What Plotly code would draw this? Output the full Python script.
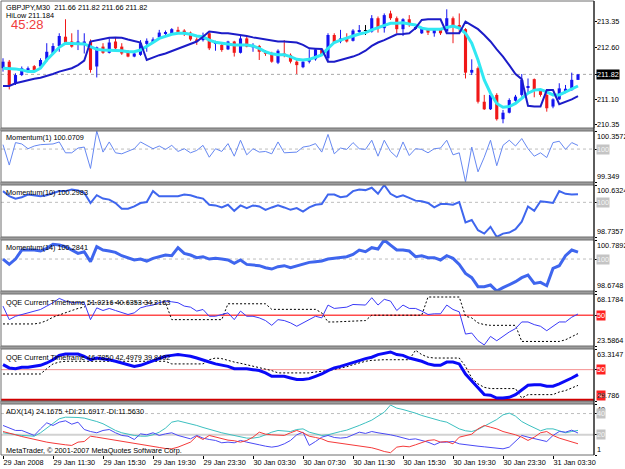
import plotly.graph_objects as go

# ---------------- data ----------------
x_tickvals = [0, 8, 16, 24, 32, 40, 48, 56, 64, 72, 80, 88]
x_ticktext = ["29 Jan 2008", "29 Jan 11:30", "29 Jan 15:30", "29 Jan 19:30",
              "29 Jan 23:30", "30 Jan 03:30", "30 Jan 07:30", "30 Jan 11:30",
              "30 Jan 15:30", "30 Jan 19:30", "30 Jan 23:30", "31 Jan 03:30"]

opens = [212.00, 212.19, 211.56, 211.80, 211.93, 212.06, 212.05, 212.24, 212.43, 212.65,
         212.92, 212.78, 212.73, 212.68, 212.78, 212.05, 212.63, 212.45, 212.78, 212.63,
         212.48, 212.34, 212.39, 212.71, 212.75, 212.90, 213.00, 213.00, 213.12, 213.10,
         213.04, 212.84, 212.82, 213.02, 212.71, 212.68, 212.55, 212.78, 212.45, 212.87,
         212.61, 212.65, 212.48, 212.43, 212.16, 212.43, 212.39, 212.19, 212.03, 212.19,
         212.26, 212.55, 212.29, 212.97, 212.78, 212.87, 212.80, 213.08, 213.10, 213.07,
         213.46, 213.17, 213.60, 213.46, 213.14, 213.43, 213.15, 213.02, 213.14, 213.02,
         213.12, 213.07, 213.46, 213.26, 213.14, 211.87, 212.00, 211.02, 210.80, 211.22,
         210.51, 210.70, 211.05, 211.22, 211.44, 211.68, 211.34, 211.22, 210.88, 211.09,
         211.36, 211.36, 211.66]
highs = [212.29, 212.24, 211.85, 212.05, 212.05, 212.09, 212.29, 212.73, 212.73, 213.02,
         213.43, 213.02, 213.12, 213.02, 212.84, 212.63, 212.73, 212.87, 212.90, 212.73,
         212.53, 212.48, 212.82, 212.87, 212.90, 213.12, 213.10, 213.17, 213.21, 213.14,
         213.07, 212.90, 213.04, 213.04, 212.80, 212.73, 212.80, 212.80, 212.97, 212.92,
         212.73, 212.68, 212.53, 212.48, 212.55, 212.82, 212.43, 212.29, 212.24, 212.55,
         212.58, 212.58, 213.02, 213.02, 213.12, 213.02, 213.14, 213.26, 213.26, 213.55,
         213.51, 213.60, 213.68, 213.51, 213.46, 213.55, 213.26, 213.21, 213.17, 213.17,
         213.14, 213.72, 213.51, 213.60, 213.17, 212.26, 212.05, 211.22, 211.27, 211.27,
         210.78, 211.12, 211.22, 211.83, 211.70, 211.70, 211.38, 211.27, 211.12, 211.56,
         211.51, 211.87, 211.82]
lows = [211.90, 211.38, 211.51, 211.77, 211.90, 211.92, 212.00, 212.19, 212.39, 212.48,
        212.68, 212.60, 212.53, 212.43, 211.87, 211.73, 212.42, 212.43, 212.53, 212.39,
        212.32, 212.32, 212.36, 212.48, 212.73, 212.87, 212.97, 212.97, 213.00, 212.94,
        212.80, 212.68, 212.78, 212.53, 212.51, 212.48, 212.53, 212.34, 212.43, 212.61,
        212.48, 212.24, 212.36, 212.16, 212.12, 212.32, 212.14, 211.83, 212.00, 212.14,
        212.22, 212.36, 212.19, 212.73, 212.73, 212.75, 212.78, 213.02, 212.97, 213.04,
        213.04, 213.04, 213.41, 213.02, 212.94, 213.21, 213.12, 213.00, 212.97, 212.92,
        212.97, 213.02, 212.73, 213.02, 211.70, 211.80, 210.97, 210.78, 210.78, 210.47,
        210.39, 210.68, 211.02, 211.17, 211.27, 211.15, 211.17, 210.73, 210.83, 211.07,
        211.27, 211.34, 211.66]
closes = [212.19, 211.51, 211.80, 212.00, 212.00, 211.95, 212.24, 212.48, 212.65, 212.94,
          212.75, 212.63, 212.78, 212.78, 211.95, 212.61, 212.45, 212.75, 212.58, 212.43,
          212.34, 212.43, 212.73, 212.80, 212.84, 213.04, 213.04, 213.14, 213.02, 213.00,
          212.84, 212.78, 212.97, 212.58, 212.75, 212.53, 212.78, 212.45, 212.87, 212.63,
          212.68, 212.48, 212.42, 212.19, 212.51, 212.36, 212.19, 212.09, 212.19, 212.29,
          212.55, 212.39, 212.97, 212.75, 212.87, 212.78, 213.10, 213.11, 213.10, 213.46,
          213.17, 213.55, 213.46, 213.14, 213.43, 213.26, 213.18, 213.19, 213.04, 213.12,
          213.02, 213.46, 213.21, 213.17, 211.87, 211.95, 211.02, 210.80, 211.22, 210.51,
          210.70, 211.07, 211.17, 211.66, 211.48, 211.34, 211.22, 210.83, 211.09, 211.41,
          211.40, 211.66, 211.82]

ma_fast = [212.00, 212.00, 211.98, 211.95, 211.90, 211.90, 212.00, 212.24, 212.43, 212.61,
           212.73, 212.73, 212.71, 212.71, 212.63, 212.55, 212.53, 212.53, 212.53, 212.51,
           212.48, 212.48, 212.53, 212.63, 212.75, 212.87, 212.94, 212.99, 213.02, 213.02,
           212.99, 212.94, 212.92, 212.82, 212.76, 212.73, 212.71, 212.68, 212.68, 212.68,
           212.65, 212.58, 212.48, 212.42, 212.39, 212.39, 212.34, 212.26, 212.24, 212.26,
           212.32, 212.39, 212.58, 212.75, 212.82, 212.87, 212.94, 213.00, 213.04, 213.12,
           213.18, 213.26, 213.31, 213.31, 213.33, 213.29, 213.26, 213.17, 213.14, 213.14,
           213.14, 213.19, 213.23, 213.17, 213.02, 212.73, 212.24, 211.66, 211.27, 210.97,
           210.86, 210.88, 210.97, 211.12, 211.27, 211.36, 211.38, 211.31, 211.22, 211.22,
           211.31, 211.38, 211.48]
hilow = [211.48, 211.48, 211.56, 211.61, 211.66, 211.69, 211.72, 211.77, 211.83, 211.90,
         211.95, 212.00, 212.09, 212.22, 212.78, 212.82, 212.86, 212.89, 212.90, 212.89,
         212.84, 212.79, 212.75, 212.24, 212.32, 212.38, 212.43, 212.50, 212.56, 212.63,
         212.70, 212.78, 212.92, 213.07, 213.05, 213.02, 213.02, 213.00, 212.97, 212.94,
         212.90, 212.87, 212.84, 212.79, 212.78, 212.78, 212.76, 212.75, 212.68, 212.58,
         212.57, 212.56, 212.19, 212.19, 212.24, 212.28, 212.34, 212.41, 212.51, 212.65,
         212.75, 212.82, 212.90, 212.99, 213.00, 213.02, 213.17, 213.41, 213.43, 213.43,
         213.43, 213.02, 213.02, 213.02, 213.36, 213.26, 213.14, 212.97, 212.78, 212.55,
         212.34, 212.09, 211.83, 211.68, 210.90, 210.88, 210.88, 211.36, 211.36, 210.95,
         211.02, 211.09, 211.184]

mom1 = [100.087, 99.684, 100.128, 100.101, 100.007, 100.060, 100.087, 100.101, 100.101, 100.141,
        99.926, 99.926, 100.020, 100.040, 99.617, 100.357, 99.940, 100.141, 99.926, 99.906,
        99.953, 100.007, 100.141, 100.074, 100.007, 100.060, 99.993, 100.074, 99.953, 100.007,
        99.926, 99.973, 100.074, 99.839, 100.007, 99.953, 100.108, 99.859, 100.175, 99.886,
        100.007, 99.940, 99.953, 99.906, 100.141, 99.926, 99.926, 99.940, 100.040, 100.060,
        100.108, 99.940, 100.289, 99.906, 100.020, 99.993, 100.128, 100.007, 99.993, 100.175,
        99.859, 100.175, 99.953, 99.839, 100.141, 99.872, 100.007, 99.993, 99.926, 100.007,
        100.020, 100.175, 99.886, 99.926, 99.349, 100.040, 99.550, 99.839, 100.175, 99.671,
        100.074, 100.175, 100.060, 100.208, 100.007, 99.859, 99.926, 99.832, 100.128, 100.155,
        99.993, 100.128, 100.0709]
mom10 = [100.409, 100.223, 100.136, 100.186, 100.285, 100.260, 100.223, 100.260, 100.347, 100.409,
         100.409, 100.471, 100.434, 100.347, 99.975, 100.260, 100.136, 100.099, 99.975, 99.765,
         99.765, 99.851, 99.975, 100.012, 100.409, 100.223, 100.223, 100.223, 100.223, 100.285,
         100.260, 100.186, 100.136, 99.913, 99.888, 99.814, 99.913, 99.690, 99.888, 99.789,
         99.888, 99.851, 99.727, 99.814, 99.888, 99.814, 99.727, 99.789, 99.665, 99.814,
         99.913, 99.938, 100.285, 100.285, 100.186, 100.223, 100.409, 100.471, 100.446, 100.533,
         100.310, 100.632, 100.310, 100.186, 100.260, 100.161, 100.062, 100.037, 99.975, 99.814,
         99.938, 99.938, 99.913, 100.012, 99.269, 99.356, 98.984, 98.860, 99.108, 98.736,
         98.860, 98.897, 99.021, 99.294, 99.851, 99.690, 100.037, 100.012, 99.975, 100.409,
         100.310, 100.285, 100.2983]
mom14 = [100.000, 99.779, 100.000, 100.373, 100.373, 100.373, 100.332, 100.442, 100.608, 100.580,
         100.511, 100.373, 100.235, 100.304, 99.889, 100.511, 100.373, 100.332, 100.276, 100.138,
         100.055, 99.959, 100.000, 99.917, 100.028, 100.097, 100.166, 100.138, 100.470, 100.235,
         100.166, 100.055, 100.097, 100.000, 100.028, 100.000, 99.959, 99.820, 99.959, 99.779,
         99.751, 99.724, 99.641, 99.585, 99.682, 99.724, 99.641, 99.724, 99.779, 99.862,
         99.889, 99.917, 100.000, 100.028, 100.055, 100.097, 100.193, 100.373, 100.304, 100.470,
         100.415, 100.789, 100.580, 100.373, 100.373, 100.332, 100.097, 100.138, 100.055, 100.055,
         99.959, 100.138, 100.028, 99.779, 99.406, 99.226, 98.853, 98.853, 98.922, 98.675,
         98.811, 98.922, 99.060, 99.226, 99.337, 98.991, 99.033, 98.894, 99.613, 99.724,
         100.138, 100.373, 100.2841]

qqe1_rsi = [57.8, 46.2, 49.1, 50.6, 52.0, 53.5, 54.9, 57.8, 60.7, 64.4,
            62.1, 60.7, 60.7, 60.7, 46.2, 56.3, 54.0, 55.8, 54.0, 52.0,
            50.6, 52.0, 56.3, 57.8, 58.7, 60.7, 62.1, 61.5, 60.7, 57.8,
            56.9, 53.5, 54.9, 49.1, 49.1, 50.6, 52.0, 46.2, 53.5, 49.1,
            49.1, 47.7, 45.4, 41.3, 46.2, 45.4, 43.4, 40.5, 43.4, 46.2,
            49.1, 47.7, 58.7, 55.8, 56.3, 56.9, 59.2, 59.2, 58.7, 65.0,
            58.7, 63.6, 62.1, 54.0, 58.7, 55.8, 55.8, 53.5, 50.6, 51.2,
            51.2, 58.7, 54.9, 52.9, 33.8, 34.7, 28.1, 24.5, 31.8, 28.1,
            31.8, 35.6, 38.5, 44.2, 44.2, 41.9, 40.5, 36.7, 40.5, 44.2,
            44.2, 48.3, 51.0216]
qqe1_trail = [42.5, 42.5, 42.5, 42.5, 42.5, 42.5, 43.4, 45.4, 48.3, 50.0,
              52.0, 54.0, 55.8, 57.0, 60.7, 60.7, 60.7, 60.7, 60.7, 60.7,
              60.7, 60.7, 60.7, 60.7, 60.7, 60.7, 60.7, 46.2, 46.2, 46.2,
              46.2, 46.2, 46.2, 46.2, 46.2, 46.2, 59.8, 59.8, 59.8, 59.8,
              59.8, 59.8, 59.8, 55.0, 55.0, 55.0, 55.0, 55.0, 55.0, 55.0,
              55.0, 52.0, 44.2, 44.2, 44.5, 44.8, 45.1, 45.4, 45.4, 50.0,
              50.0, 50.0, 50.0, 50.0, 50.0, 50.0, 50.0, 50.0, 65.6, 65.6,
              65.6, 65.6, 65.6, 65.6, 49.1, 47.7, 43.4, 41.9, 41.3, 41.3,
              41.3, 41.3, 41.3, 27.5, 27.5, 27.5, 27.5, 27.5, 27.5, 27.5,
              28.9, 31.5, 34.2163]

qqe2_rsi = [53.2, 51.1, 50.6, 51.5, 51.5, 52.1, 52.8, 54.3, 56.4, 59.2,
            60.1, 60.1, 60.1, 58.6, 56.4, 57.5, 57.1, 56.4, 55.4, 54.3,
            53.2, 52.1, 52.8, 54.3, 55.8, 57.1, 58.6, 59.2, 59.7, 59.2,
            58.6, 57.5, 56.4, 54.9, 53.7, 52.8, 52.1, 50.6, 50.6, 50.6,
            50.0, 49.4, 47.9, 45.7, 45.7, 45.7, 44.6, 43.6, 43.6, 44.2,
            45.7, 47.2, 49.4, 51.1, 52.1, 53.2, 54.3, 55.8, 57.1, 58.0,
            59.7, 60.7, 61.4, 59.7, 59.2, 57.5, 56.4, 55.4, 53.7, 52.8,
            52.8, 54.9, 54.9, 53.7, 47.2, 42.9, 38.2, 33.9, 33.5, 31.7,
            31.7, 32.2, 33.9, 37.1, 39.9, 40.3, 40.3, 39.3, 39.3, 40.8,
            42.5, 44.6, 46.785]
qqe2_trail = [47.2, 47.2, 47.2, 47.2, 47.2, 47.2, 47.2, 50.6, 53.7, 54.9,
              55.4, 55.4, 55.4, 55.4, 55.4, 55.4, 55.4, 55.4, 55.4, 55.4,
              55.4, 55.4, 55.4, 55.4, 55.4, 55.4, 55.4, 53.7, 53.7, 53.7,
              53.7, 53.7, 53.7, 56.4, 57.5, 57.1, 55.8, 54.9, 54.1, 53.2,
              52.4, 51.5, 50.6, 49.4, 47.9, 47.9, 47.9, 47.9, 47.9, 47.9,
              48.5, 48.9, 49.4, 50.2, 50.9, 51.9, 53.2, 54.3, 55.4, 56.0,
              56.4, 56.4, 56.4, 56.4, 56.4, 56.4, 62.5, 59.7, 58.0, 57.5,
              57.5, 57.5, 57.5, 57.5, 52.1, 44.6, 40.8, 38.6, 37.8, 37.8,
              37.8, 37.8, 37.8, 31.7, 33.9, 33.9, 33.9, 33.9, 33.9, 35.6,
              36.5, 38.2, 39.8492]

adx_main = [21.9, 20.9, 20.0, 19.4, 19.1, 18.7, 21.9, 26.3, 31.3, 35.1,
            36.6, 36.6, 36.3, 35.7, 34.4, 32.5, 30.4, 27.2, 24.1, 21.9,
            20.3, 19.4, 18.7, 18.7, 20.0, 22.5, 26.3, 31.9, 33.2, 31.9,
            30.7, 28.8, 26.9, 25.0, 23.1, 21.9, 20.6, 19.4, 18.1, 16.9,
            16.9, 17.8, 20.0, 22.5, 24.1, 23.8, 23.1, 25.0, 25.6, 22.5,
            20.6, 19.4, 20.0, 21.9, 23.1, 24.4, 26.3, 28.8, 31.3, 33.8,
            37.6, 41.3, 48.0, 45.1, 43.8, 42.3, 40.4, 38.2, 36.3, 34.4,
            33.2, 31.9, 28.8, 25.6, 23.8, 23.1, 25.0, 28.2, 31.3, 34.4,
            38.8, 40.4, 37.6, 32.5, 29.4, 26.3, 23.8, 25.6, 25.6, 23.8,
            21.9, 23.1, 24.1675]
adx_plus = [28.8, 26.3, 24.1, 24.1, 21.9, 19.4, 25.6, 31.3, 28.8, 31.9,
            33.2, 30.0, 31.9, 25.0, 23.1, 21.9, 24.1, 25.0, 21.9, 19.4,
            18.7, 15.6, 20.9, 20.0, 21.9, 19.4, 20.9, 21.9, 19.4, 17.8,
            16.2, 19.4, 16.9, 15.6, 14.7, 12.5, 13.1, 12.5, 14.7, 13.1,
            11.5, 10.6, 9.3, 8.4, 9.3, 11.5, 14.7, 20.0, 22.5, 10.0,
            13.7, 17.8, 19.4, 17.5, 16.9, 17.5, 20.0, 22.5, 21.3, 23.1,
            21.9, 21.3, 20.0, 18.7, 16.9, 15.6, 16.2, 15.0, 13.1, 10.6,
            13.1, 13.1, 13.7, 11.5, 10.6, 10.0, 9.3, 8.7, 8.1, 7.5,
            6.8, 8.4, 13.7, 19.4, 17.8, 16.2, 14.7, 13.7, 19.4, 23.1,
            22.5, 24.4, 21.6917]
adx_minus = [23.1, 21.9, 20.0, 18.4, 16.9, 15.6, 14.4, 13.1, 12.2, 11.2,
             10.6, 10.0, 13.1, 13.7, 18.7, 17.8, 16.9, 15.6, 14.7, 13.7,
             12.8, 11.8, 10.9, 10.0, 9.0, 8.1, 7.1, 6.8, 8.4, 10.6,
             13.1, 18.7, 15.6, 19.4, 17.8, 16.2, 15.0, 14.4, 13.1, 14.7,
             17.8, 22.5, 20.6, 20.0, 20.0, 19.4, 21.9, 24.1, 21.9, 18.7,
             17.5, 16.2, 13.7, 12.8, 11.8, 10.9, 10.3, 9.3, 8.7, 7.8,
             6.2, 4.3, 3.2, 8.4, 9.3, 8.7, 10.6, 12.5, 14.7, 15.3,
             13.1, 13.7, 11.5, 17.8, 19.4, 20.6, 25.6, 28.8, 27.2, 25.6,
             23.1, 21.9, 20.0, 17.8, 14.7, 17.8, 21.9, 23.1, 19.4, 16.9,
             15.0, 13.1, 11.563]

price_ticks = [213.35, 212.60, 211.10, 210.35]
bid_price = 211.82

# ---------------- layout constants ----------------
W, H = 625, 469
ML, MR, MT, MB = 1, 31, 1, 14
PW = W - ML - MR
PH = H - MT - MB
FONT = "Liberation Sans, Arial, sans-serif"
FS = 7.3


def fy(py):
    return (H - MB - py) / PH


def fx(px):
    return (px - ML) / PW


panel_px = [(1, 128), (131, 182), (185, 237), (240, 291), (294, 346), (349, 401), (404, 455)]
ranges = [(210.253, 213.963), (99.349, 100.3572), (98.7357, 100.6324), (98.6748, 100.7892),
          (23.5864, 68.1784), (29.786, 63.3147), (1, 49)]

N = len(closes)
idx = list(range(N))

BLUE_C = '#1414F0'
RED_C = '#F01818'

fig = go.Figure()

# candles
up = [i for i in idx if closes[i] > opens[i]]
dn = [i for i in idx if closes[i] < opens[i]]
dj = [i for i in idx if closes[i] == opens[i]]
BODY_MIN = 0.015
for sel, col in [(up, BLUE_C), (dn, RED_C), (dj, '#000000')]:
    if not sel:
        continue
    wx, wy = [], []
    for i in sel:
        wx += [i, i, None]
        wy += [lows[i], highs[i], None]
    fig.add_trace(go.Scatter(x=wx, y=wy, mode='lines', line=dict(color=col, width=1),
                             xaxis='x', yaxis='y', hoverinfo='skip'))
    bases = []
    hts = []
    for i in sel:
        h = abs(closes[i] - opens[i])
        lo = min(opens[i], closes[i])
        if h < BODY_MIN:
            lo -= (BODY_MIN - h) / 2
            h = BODY_MIN
        bases.append(lo)
        hts.append(h)
    fig.add_trace(go.Bar(x=sel, y=hts, base=bases, width=0.5,
                         marker=dict(color=col, line=dict(width=0)),
                         xaxis='x', yaxis='y', hoverinfo='skip'))

fig.add_trace(go.Scatter(x=idx, y=ma_fast, mode='lines', line=dict(color='#30E8F2', width=3),
                         xaxis='x', yaxis='y'))
fig.add_trace(go.Scatter(x=idx, y=hilow, mode='lines', line=dict(color='#1C1CC8', width=2),
                         xaxis='x', yaxis='y'))

# momentum panels
fig.add_trace(go.Scatter(x=idx, y=mom1, mode='lines', line=dict(color='#6688F2', width=1),
                         xaxis='x', yaxis='y2'))
fig.add_trace(go.Scatter(x=idx, y=mom10, mode='lines', line=dict(color='#3F66EE', width=2),
                         xaxis='x', yaxis='y3'))
fig.add_trace(go.Scatter(x=idx, y=mom14, mode='lines', line=dict(color='#3F66EE', width=3),
                         xaxis='x', yaxis='y4'))

# QQE panels
fig.add_trace(go.Scatter(x=idx, y=qqe1_trail, mode='lines',
                         line=dict(color='#000000', width=1, dash='2px,2px'), xaxis='x', yaxis='y5'))
fig.add_trace(go.Scatter(x=idx, y=qqe1_rsi, mode='lines', line=dict(color='#3A3AF8', width=1),
                         xaxis='x', yaxis='y5'))
fig.add_trace(go.Scatter(x=idx, y=qqe2_trail, mode='lines',
                         line=dict(color='#000000', width=1, dash='2px,2px'), xaxis='x', yaxis='y6'))
fig.add_trace(go.Scatter(x=idx, y=qqe2_rsi, mode='lines', line=dict(color='#0A0AF8', width=3),
                         xaxis='x', yaxis='y6'))

# ADX panel
fig.add_trace(go.Scatter(x=idx, y=adx_main, mode='lines', line=dict(color='#3CC0C0', width=1),
                         xaxis='x', yaxis='y7'))
fig.add_trace(go.Scatter(x=idx, y=adx_plus, mode='lines', line=dict(color='#4A4AF5', width=1),
                         xaxis='x', yaxis='y7'))
fig.add_trace(go.Scatter(x=idx, y=adx_minus, mode='lines', line=dict(color='#F53A3A', width=1),
                         xaxis='x', yaxis='y7'))

# ---------------- axes ----------------
layout = dict(
    width=W, height=H,
    margin=dict(l=ML, r=MR, t=MT, b=MB),
    paper_bgcolor='white', plot_bgcolor='white',
    showlegend=False, barmode='overlay',
    xaxis=dict(domain=[0, 1], range=[-0.32, 94.56], anchor='y7', showgrid=False,
               zeroline=False, showline=False, ticks='outside', ticklen=3, tickcolor='#000000',
               tickvals=x_tickvals, ticktext=x_ticktext, ticklabelposition='outside right',
               tickangle=0,
               tickfont=dict(family=FONT, size=FS, color='#000000'), fixedrange=True),
)
tick_sets = [price_ticks + [bid_price],
             [ranges[1][0], 100, ranges[1][1]],
             [ranges[2][0], 100, ranges[2][1]],
             [ranges[3][0], 100, ranges[3][1]],
             [ranges[4][0], 50, ranges[4][1]],
             [ranges[5][0], 50, ranges[5][1]],
             [ranges[6][0], 20, 40, ranges[6][1]]]
for k in range(7):
    top, bot = panel_px[k]
    key = 'yaxis' if k == 0 else 'yaxis%d' % (k + 1)
    layout[key] = dict(domain=[fy(bot), fy(top)], range=list(ranges[k]), anchor='x', side='right',
                       showgrid=False, zeroline=False, showline=False, showticklabels=False,
                       ticks='outside', ticklen=2, tickcolor='#000000', tickvals=tick_sets[k],
                       fixedrange=True)
fig.update_layout(**layout)

# ---------------- shapes ----------------
shapes = []
for k in range(6):
    shapes.append(dict(type='rect', xref='paper', yref='paper', x0=-ML / PW, x1=1,
                       y0=fy(panel_px[k + 1][0]), y1=fy(panel_px[k][1]),
                       fillcolor='#9C9C9C', line=dict(width=0), layer='above'))
for k in range(7):
    top, bot = panel_px[k]
    shapes.append(dict(type='rect', xref='paper', yref='paper', x0=0, x1=1,
                       y0=fy(bot), y1=fy(top), line=dict(color='#6E6E6E', width=1),
                       fillcolor='rgba(0,0,0,0)', layer='above'))
shapes.append(dict(type='line', xref='paper', yref='paper', x0=1, x1=1, y0=0, y1=1,
                   line=dict(color='#000000', width=1), layer='above'))


def hline(yref, val, color, width, dash='solid'):
    shapes.append(dict(type='line', xref='paper', yref=yref, x0=0, x1=1, y0=val, y1=val,
                       line=dict(color=color, width=width, dash=dash), layer='below'))


hline('y', bid_price, '#A8A8A8', 1, 'dot')
hline('y2', 100, '#BDBDBD', 1, 'dot')
hline('y3', 100, '#BDBDBD', 1, 'dot')
hline('y4', 100, '#BDBDBD', 1, 'dot')
hline('y5', 50, '#FF4A4A', 1.5)
hline('y6', 50, '#F59090', 1)
hline('y6', 30, '#D00000', 4)
hline('y7', 40, '#BDBDBD', 1, 'dot')
hline('y7', 20, '#D2D2D2', 2)
fig.update_layout(shapes=shapes)

# ---------------- annotations ----------------
anns = []


def tl(text, px, py, size=FS, color='#000000'):
    anns.append(dict(text=text, xref='paper', yref='paper', x=fx(px), y=fy(py),
                     xanchor='left', yanchor='middle', showarrow=False, borderpad=0,
                     font=dict(family=FONT, size=size, color=color)))


def rl(text, yref, val, yanchor='middle', bg=None, color='#000000'):
    a = dict(text=text, xref='paper', yref=yref, x=1, y=val, xanchor='left', yanchor=yanchor,
             xshift=2, showarrow=False, borderpad=0,
             font=dict(family=FONT, size=FS, color=color))
    if bg:
        a['bgcolor'] = bg
    anns.append(a)


tl("GBPJPY,M30\u00a0\u00a0211.66 211.82 211.66 211.82", 5, 7.3)
tl("HiLow 211.184", 5, 15.0)
tl("45:28", 10, 24.3, size=13, color='#F03C3C')
tl("Momentum(1) 100.0709", 5, 137.3)
tl("Momentum(10) 100.2983", 5, 192.5)
tl("Momentum(14) 100.2841", 5, 247.3)
tl("QQE Current Timeframe 51.0216 40.6353 34.2163", 5, 302.5)
tl("QQE Current Timeframe 46.7850 42.4979 39.8492", 5, 357.3)
tl("ADX(14) 24.1675 +DI:21.6917 -DI:11.5630", 5, 411.7)
tl("MetaTrader, \u00a9 2001-2007 MetaQuotes Software Corp.", 5, 450.0)

for v in price_ticks:
    rl("%.2f" % v, 'y', v)
rl("%.2f" % bid_price, 'y', bid_price, bg='#000000', color='#FFFFFF')

rl("100.3572", 'y2', ranges[1][1], 'top')
rl("99.349", 'y2', ranges[1][0], 'bottom')
rl("100", 'y2', 100, bg='#C4C4C4', color='#F4F4F4')
rl("100.6324", 'y3', ranges[2][1], 'top')
rl("98.7357", 'y3', ranges[2][0], 'bottom')
rl("100", 'y3', 100, bg='#C4C4C4', color='#F4F4F4')
rl("100.7892", 'y4', ranges[3][1], 'top')
rl("98.6748", 'y4', ranges[3][0], 'bottom')
rl("100", 'y4', 100, bg='#C4C4C4', color='#F4F4F4')
rl("68.1784", 'y5', ranges[4][1], 'top')
rl("23.5864", 'y5', ranges[4][0], 'bottom')
rl("50", 'y5', 50, bg='#FF2020', color='#FFFFFF')
rl("63.3147", 'y6', ranges[5][1], 'top')
rl("50", 'y6', 50, bg='#FF2020', color='#FFFFFF')
rl("30", 'y6', 30, 'bottom', bg='#FF2020', color='#FFFFFF')
rl("29.786", 'y6', ranges[5][0], 'bottom')
rl("49", 'y7', ranges[6][1], 'top')
rl("40", 'y7', 40, bg='#C4C4C4', color='#F4F4F4')
rl("20", 'y7', 20, bg='#C4C4C4', color='#F4F4F4')
rl("1", 'y7', ranges[6][0], 'bottom')

fig.update_layout(annotations=anns)

fig.write_html("out.html")
